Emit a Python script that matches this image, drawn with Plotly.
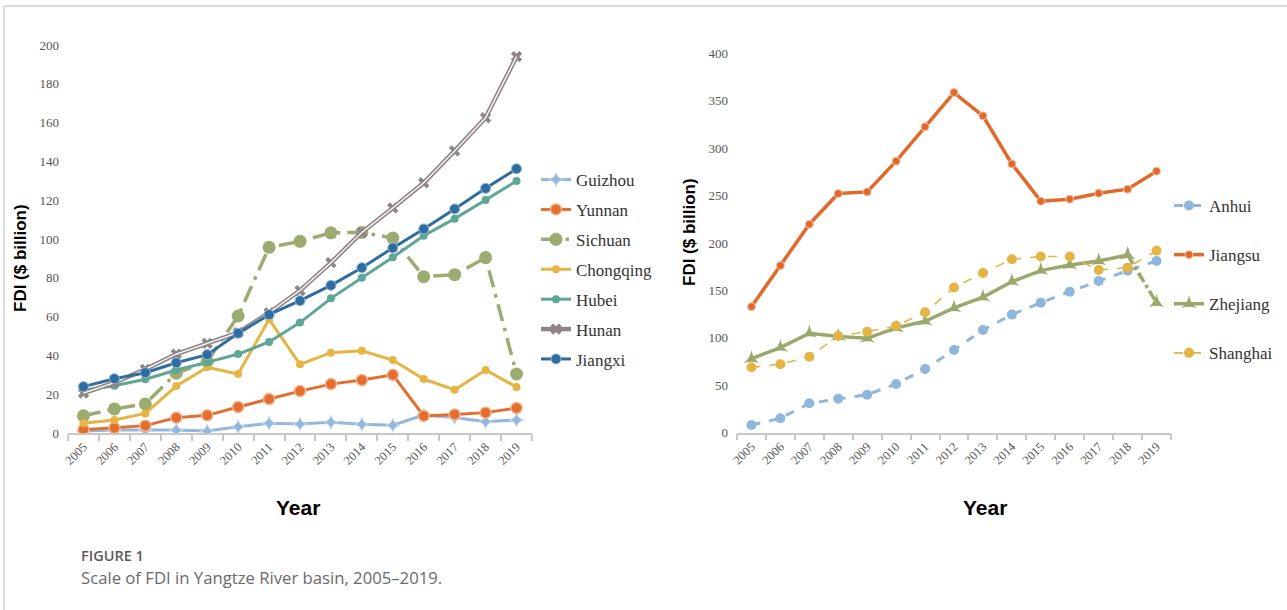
import plotly.graph_objects as go

# ---------------- data ----------------
years = [str(y) for y in range(2005, 2020)]

# left panel: central / upper-reach provinces ($ billion)
guizhou = [1.0, 1.5, 1.5, 1.5, 1.0, 3.2, 5.0, 4.6, 5.5, 4.5, 4.0, 9.3, 8.0, 5.8, 6.7]
yunnan = [1.7, 2.6, 3.8, 7.9, 9.1, 13.4, 17.5, 21.6, 25.2, 27.3, 30.0, 8.8, 9.6, 10.5, 12.9]
sichuan = [8.9, 12.4, 15.0, 30.8, 36.8, 60.3, 95.7, 98.8, 103.2, 103.4, 100.5, 80.6, 81.6, 90.4, 30.4]
chongqing = [5.0, 6.7, 10.1, 24.2, 33.9, 30.4, 58.6, 35.4, 41.4, 42.4, 37.6, 27.8, 22.3, 32.5, 23.7]
hubei = [22.0, 24.4, 27.7, 32.5, 36.4, 40.7, 46.9, 56.9, 69.4, 80.0, 90.6, 101.7, 110.5, 120.1, 129.9]
hunan = [20.6, 26.0, 32.8, 40.7, 46.2, 51.7, 62.0, 73.4, 87.8, 103.4, 116.0, 129.0, 145.4, 162.5, 194.0]
jiangxi = [23.9, 28.0, 31.1, 36.2, 40.4, 51.4, 61.0, 68.2, 76.1, 85.2, 95.4, 105.2, 115.5, 126.1, 136.2]

# right panel: lower-reach provinces ($ billion)
anhui = [8.1, 15.2, 31.0, 35.9, 40.1, 51.4, 67.2, 87.2, 108.3, 124.5, 137.1, 148.7, 160.0, 170.9, 181.1]
jiangsu = [132.9, 176.2, 219.8, 252.1, 253.9, 286.3, 322.5, 358.6, 334.1, 283.4, 244.1, 246.2, 252.5, 256.8, 275.7]
zhejiang = [78.0, 89.7, 104.9, 101.5, 99.5, 110.5, 117.5, 131.5, 142.8, 159.3, 170.9, 176.9, 181.1, 187.4, 137.1]
shanghai = [69.0, 72.1, 80.2, 102.0, 106.5, 112.6, 127.0, 153.0, 168.4, 182.9, 185.7, 185.7, 171.6, 174.0, 192.0]

left_ticks = list(range(0, 201, 20))
right_ticks = list(range(0, 401, 50))

# ---------------- layout helpers ----------------
W, H = 1287, 610


def px_x(p):
    return p / W


def px_y(p):
    return 1 - p / H


SERIF = "Liberation Serif, Times New Roman, serif"
SANS = "Liberation Sans, Arial, sans-serif"
TICK_COLOR = "#555555"
AXIS_COLOR = "#c8c8c8"

fig = go.Figure()


def add_line(name, y, color, width, dash="solid", symbol="circle", msize=8,
             mline=None, xaxis="x", yaxis="y", legend="legend", x=None,
             showlegend=True, group=None):
    fig.add_trace(go.Scatter(
        x=x if x is not None else years, y=y, name=name, mode="lines+markers",
        line=dict(color=color, width=width, dash=dash),
        marker=dict(symbol=symbol, size=msize, color=color,
                    line=mline or dict(width=0)),
        xaxis=xaxis, yaxis=yaxis, legend=legend, showlegend=showlegend,
        legendgroup=group or name,
    ))


# left panel series
add_line("Guizhou", guizhou, "#93b8dc", 3, symbol="star-diamond", msize=10,
         mline=dict(color="#c5d9ee", width=1))
add_line("Yunnan", yunnan, "#e46e2d", 3, symbol="circle", msize=11,
         mline=dict(color="#f2b08c", width=1.5))
add_line("Sichuan", sichuan, "#9cab70", 3.5, dash="longdashdot", symbol="circle", msize=13)
add_line("Chongqing", chongqing, "#e6b443", 3, symbol="circle", msize=8)
add_line("Hubei", hubei, "#5ea695", 3, symbol="circle", msize=8)
add_line("Hunan", hunan, "#8f8486", 4.5, symbol="x", msize=10)
# white core gives the Hunan line its hollow look
fig.add_trace(go.Scatter(x=years, y=hunan, mode="lines", line=dict(color="white", width=1.3),
                         showlegend=False, hoverinfo="skip", legendgroup="Hunan"))
add_line("Jiangxi", jiangxi, "#2f6da0", 3, symbol="circle", msize=10,
         mline=dict(color="#8fb5da", width=1))

# right panel series
add_line("Anhui", anhui, "#8fb6dc", 3, dash="dash", symbol="circle", msize=10,
         xaxis="x2", yaxis="y2", legend="legend2")
add_line("Jiangsu", jiangsu, "#e2692a", 3.5, symbol="circle", msize=8,
         mline=dict(color="#f0c6ad", width=1), xaxis="x2", yaxis="y2", legend="legend2")
# Zhejiang: solid through 2018, dash-dot for the final year
add_line("Zhejiang", zhejiang[:14], "#9aa96b", 3.5, symbol="star-triangle-up", msize=11,
         x=years[:14], xaxis="x2", yaxis="y2", legend="legend2")
add_line("Zhejiang", zhejiang[13:], "#9aa96b", 3.5, dash="dashdot", symbol="star-triangle-up",
         msize=11, x=years[13:], xaxis="x2", yaxis="y2", legend="legend2",
         showlegend=False)
add_line("Shanghai", shanghai, "#e4b445", 1.6, dash="dash", symbol="circle", msize=10,
         xaxis="x2", yaxis="y2", legend="legend2")

xaxis_common = dict(
    type="category", range=[-0.5, 14.5], showgrid=False, zeroline=False,
    showline=True, linecolor=AXIS_COLOR, linewidth=1.5,
    ticks="outside", tickson="boundaries", ticklen=6, tickcolor=AXIS_COLOR, tickwidth=1.5,
    tickangle=-45, tickfont=dict(family=SERIF, size=12.5, color=TICK_COLOR),
    automargin=False, fixedrange=True,
)
yaxis_common = dict(
    showgrid=False, zeroline=False, showline=False, ticks="",
    tickfont=dict(family=SERIF, size=13, color=TICK_COLOR),
    ticklabelstandoff=8, automargin=False, fixedrange=True,
)

legend_common = dict(
    font=dict(family=SERIF, size=17, color="#333333"),
    bgcolor="rgba(0,0,0,0)", xanchor="left", yanchor="top",
    itemclick=False, itemdoubleclick=False,
)

fig.update_layout(
    width=W, height=H,
    margin=dict(l=0, r=0, t=0, b=0),
    paper_bgcolor="white", plot_bgcolor="white",
    xaxis=dict(domain=[px_x(68), px_x(532)], anchor="y", **xaxis_common),
    yaxis=dict(domain=[px_y(433), px_y(45)], range=[0, 200], tickvals=left_ticks,
               anchor="x", **yaxis_common),
    xaxis2=dict(domain=[px_x(737), px_x(1171)], anchor="y2", **xaxis_common),
    yaxis2=dict(domain=[px_y(432.7), px_y(53.3)], range=[0, 400], tickvals=right_ticks,
                anchor="x2", **yaxis_common),
    legend=dict(x=px_x(536), y=px_y(162), tracegroupgap=4.8, **legend_common),
    legend2=dict(x=px_x(1169), y=px_y(188), tracegroupgap=24, **legend_common),
    showlegend=True,
)

# axis titles
title_font = dict(family=SANS, size=17, color="black", weight="bold")
for xc, yc in [(20, 258), (690, 232)]:
    fig.add_annotation(text="FDI ($ billion)", x=px_x(xc), y=px_y(yc), xref="paper", yref="paper",
                       textangle=-90, showarrow=False, font=title_font,
                       xanchor="center", yanchor="middle")
for xc in (298, 985):
    fig.add_annotation(text="Year", x=px_x(xc), y=px_y(507), xref="paper", yref="paper",
                       showarrow=False, font=dict(family=SANS, size=21, color="black", weight="bold"),
                       xanchor="center", yanchor="middle")

# caption
fig.add_annotation(text="FIGURE 1", x=px_x(79), y=px_y(555), xref="paper", yref="paper",
                   showarrow=False, xanchor="left", yanchor="middle",
                   font=dict(family="Open Sans, Noto Sans, sans-serif", size=14.5,
                             color="#5a5a5a", weight=600))
fig.add_annotation(text="Scale of FDI in Yangtze River basin, 2005\u20132019.",
                   x=px_x(79), y=px_y(577), xref="paper", yref="paper",
                   showarrow=False, xanchor="left", yanchor="middle",
                   font=dict(family="Open Sans, Noto Sans, sans-serif", size=16.7, color="#6a6a6a"))

# thin frame along top and left edges
fig.add_shape(type="line", xref="paper", yref="paper", x0=px_x(4), x1=1, y0=px_y(6), y1=px_y(6),
              line=dict(color="#d0d0d0", width=1.5))
fig.add_shape(type="line", xref="paper", yref="paper", x0=px_x(4), x1=px_x(4), y0=px_y(6), y1=0,
              line=dict(color="#d0d0d0", width=1.5))

fig.write_html("out.html", config={"displayModeBar": False})
